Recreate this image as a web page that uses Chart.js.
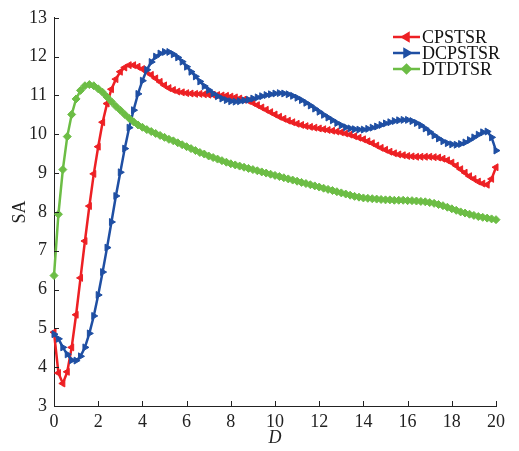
<!DOCTYPE html>
<html>
<head>
<meta charset="utf-8">
<script src="https://cdn.jsdelivr.net/npm/chart.js@4"></script>
<style>
  body { margin: 0; background: #fff; }
  canvas { display: block; }
</style>
</head>
<body>
<canvas id="saChart" width="519" height="451"></canvas>
<script>
// sampling positions along D (0 to 20, every 0.2)
const dValues = Array.from({ length: 101 }, (_, i) => +(i * 0.2).toFixed(1));

const cpstsr = [
  4.90, 3.85, 3.58, 3.88, 4.51, 5.35, 6.30, 7.25, 8.15, 8.98,
  9.68, 10.31, 10.79, 11.16, 11.42, 11.61, 11.72, 11.78, 11.78, 11.74,
  11.68, 11.61, 11.53, 11.44, 11.35, 11.26, 11.19, 11.14, 11.10, 11.08,
  11.06, 11.05, 11.04, 11.04, 11.03, 11.02, 11.02, 11.01, 11.00, 10.99,
  10.97, 10.95, 10.92, 10.89, 10.86, 10.81, 10.75, 10.69, 10.63, 10.57,
  10.51, 10.45, 10.40, 10.35, 10.31, 10.27, 10.24, 10.21, 10.19, 10.17,
  10.15, 10.13, 10.11, 10.09, 10.07, 10.05, 10.02, 9.99, 9.95, 9.91,
  9.87, 9.82, 9.77, 9.71, 9.65, 9.60, 9.55, 9.51, 9.48, 9.46,
  9.44, 9.43, 9.42, 9.42, 9.42, 9.42, 9.41, 9.40, 9.37, 9.33,
  9.27, 9.19, 9.10, 9.01, 8.92, 8.85, 8.78, 8.73, 8.70, 8.85,
  9.15
];

const dcpstsr = [
  4.85, 4.73, 4.51, 4.33, 4.18, 4.17, 4.28, 4.51, 4.87, 5.32,
  5.86, 6.45, 7.08, 7.74, 8.41, 9.02, 9.63, 10.17, 10.62, 11.04,
  11.38, 11.66, 11.86, 12.00, 12.08, 12.12, 12.12, 12.06, 11.98, 11.87,
  11.74, 11.61, 11.49, 11.36, 11.24, 11.14, 11.05, 10.98, 10.92, 10.88,
  10.85, 10.84, 10.85, 10.87, 10.89, 10.92, 10.95, 10.98, 11.01, 11.03,
  11.05, 11.06, 11.05, 11.03, 10.99, 10.94, 10.88, 10.81, 10.74, 10.66,
  10.58, 10.50, 10.43, 10.36, 10.29, 10.23, 10.18, 10.15, 10.13, 10.12,
  10.12, 10.14, 10.17, 10.20, 10.24, 10.28, 10.31, 10.34, 10.36, 10.37,
  10.37, 10.34, 10.29, 10.23, 10.15, 10.06, 9.97, 9.89, 9.82, 9.77,
  9.74, 9.73, 9.75, 9.79, 9.85, 9.92, 9.99, 10.05, 10.07, 9.92,
  9.58
];

const dtdtsr = [
  6.36, 7.94, 9.09, 9.94, 10.51, 10.91, 11.13, 11.25, 11.28, 11.25,
  11.17, 11.08, 10.96, 10.84, 10.72, 10.62, 10.51, 10.41, 10.32, 10.24,
  10.18, 10.12, 10.07, 10.02, 9.97, 9.92, 9.87, 9.83, 9.78, 9.73,
  9.68, 9.63, 9.58, 9.53, 9.49, 9.44, 9.40, 9.36, 9.32, 9.28,
  9.24, 9.21, 9.18, 9.15, 9.12, 9.09, 9.06, 9.03, 9.00, 8.97,
  8.94, 8.91, 8.88, 8.85, 8.82, 8.79, 8.76, 8.73, 8.70, 8.67,
  8.64, 8.61, 8.58, 8.55, 8.52, 8.49, 8.46, 8.43, 8.40, 8.38,
  8.36, 8.35, 8.34, 8.33, 8.32, 8.31, 8.31, 8.30, 8.30, 8.30,
  8.29, 8.29, 8.28, 8.27, 8.26, 8.24, 8.22, 8.19, 8.16, 8.12,
  8.08, 8.04, 8.00, 7.97, 7.94, 7.91, 7.88, 7.86, 7.84, 7.82,
  7.80
];

const seriesNames = ["CPSTSR", "DCPSTSR", "DTDTSR"];
const xTicks = [0, 2, 4, 6, 8, 10, 12, 14, 16, 18, 20];
const yTicks = [3, 4, 5, 6, 7, 8, 9, 10, 11, 12, 13];

const colors = {
  red: "#ED2024",
  blue: "#1F4FA3",
  green: "#6CBD45",
};
const serif = "'Liberation Serif', 'Times New Roman', serif";

const toPoints = (ys) => ys.map((y, i) => ({ x: dValues[i], y }));

const markers = [
  { style: "triangle", rotation: -90, color: colors.red },
  { style: "triangle", rotation: 90, color: colors.blue },
  { style: "rectRot", rotation: 0, color: colors.green },
];

// inward tick marks (matlab style)
const innerTicks = {
  id: "innerTicks",
  afterDraw(chart) {
    const { ctx, chartArea, scales } = chart;
    ctx.save();
    ctx.strokeStyle = "#222";
    ctx.lineWidth = 1;
    ctx.beginPath();
    xTicks.forEach((v) => {
      const px = Math.round(scales.x.getPixelForValue(v)) + 0.5;
      ctx.moveTo(px, chartArea.bottom);
      ctx.lineTo(px, chartArea.bottom - 5);
    });
    yTicks.forEach((v) => {
      const py = Math.round(scales.y.getPixelForValue(v)) + 0.5;
      ctx.moveTo(chartArea.left, py);
      ctx.lineTo(chartArea.left + 5, py);
    });
    ctx.stroke();
    ctx.restore();
  },
};

// legend with line + marker samples
const lineLegend = {
  id: "lineLegend",
  afterDraw(chart) {
    const { ctx } = chart;
    const x0 = 393, x1 = 420, rowY = [37, 53, 69];
    ctx.save();
    ctx.font = "18px " + serif;
    ctx.textBaseline = "middle";
    seriesNames.forEach((name, i) => {
      const m = markers[i];
      ctx.strokeStyle = m.color;
      ctx.lineWidth = 2.5;
      ctx.beginPath();
      ctx.moveTo(x0, rowY[i]);
      ctx.lineTo(x1, rowY[i]);
      ctx.stroke();
      ctx.fillStyle = m.color;
      Chart.helpers.drawPoint(ctx, {
        pointStyle: m.style,
        rotation: m.rotation,
        radius: 4,
        borderWidth: 1,
      }, (x0 + x1) / 2, rowY[i]);
      ctx.fillStyle = "#111";
      ctx.fillText(name, 422, rowY[i] + 1);
    });
    ctx.restore();
  },
};

const seriesData = [cpstsr, dcpstsr, dtdtsr];

new Chart(document.getElementById("saChart"), {
  type: "line",
  data: {
    datasets: seriesNames.map((name, i) => ({
      label: name,
      data: toPoints(seriesData[i]),
      borderColor: markers[i].color,
      backgroundColor: markers[i].color,
      pointBackgroundColor: markers[i].color,
      pointBorderColor: markers[i].color,
      pointStyle: markers[i].style,
      pointRotation: markers[i].rotation,
      pointRadius: 4,
      pointBorderWidth: 1,
      borderWidth: 2.5,
      tension: 0,
      clip: false,
      order: 2 - i,
    })),
  },
  options: {
    responsive: false,
    animation: false,
    layout: {
      padding: { top: 14, right: 23, left: 0, bottom: 0 },
    },
    plugins: {
      legend: { display: false },
      tooltip: { enabled: false },
    },
    scales: {
      x: {
        type: "linear",
        min: 0,
        max: 20,
        afterFit: (s) => { s.height = 45; },
        afterBuildTicks: (s) => { s.ticks = xTicks.map((v) => ({ value: v })); },
        grid: { display: false, drawTicks: false },
        border: { display: true, color: "#222", width: 1 },
        ticks: {
          color: "#222",
          padding: 5,
          maxRotation: 0,
          font: { family: serif, size: 18 },
        },
        title: {
          display: true,
          text: "D",
          color: "#222",
          padding: { top: 0, bottom: 2 },
          font: { family: serif, size: 18, style: "italic" },
        },
      },
      y: {
        min: 3,
        max: 13,
        afterFit: (s) => { s.width = 54; },
        afterBuildTicks: (s) => { s.ticks = yTicks.map((v) => ({ value: v })); },
        grid: { display: false, drawTicks: false },
        border: { display: true, color: "#222", width: 1 },
        ticks: {
          color: "#222",
          padding: 7,
          font: { family: serif, size: 18 },
        },
        title: {
          display: true,
          text: "SA",
          color: "#222",
          padding: { top: 9, bottom: 0 },
          font: { family: serif, size: 18 },
        },
      },
    },
  },
  plugins: [innerTicks, lineLegend],
});
</script>
</body>
</html>
